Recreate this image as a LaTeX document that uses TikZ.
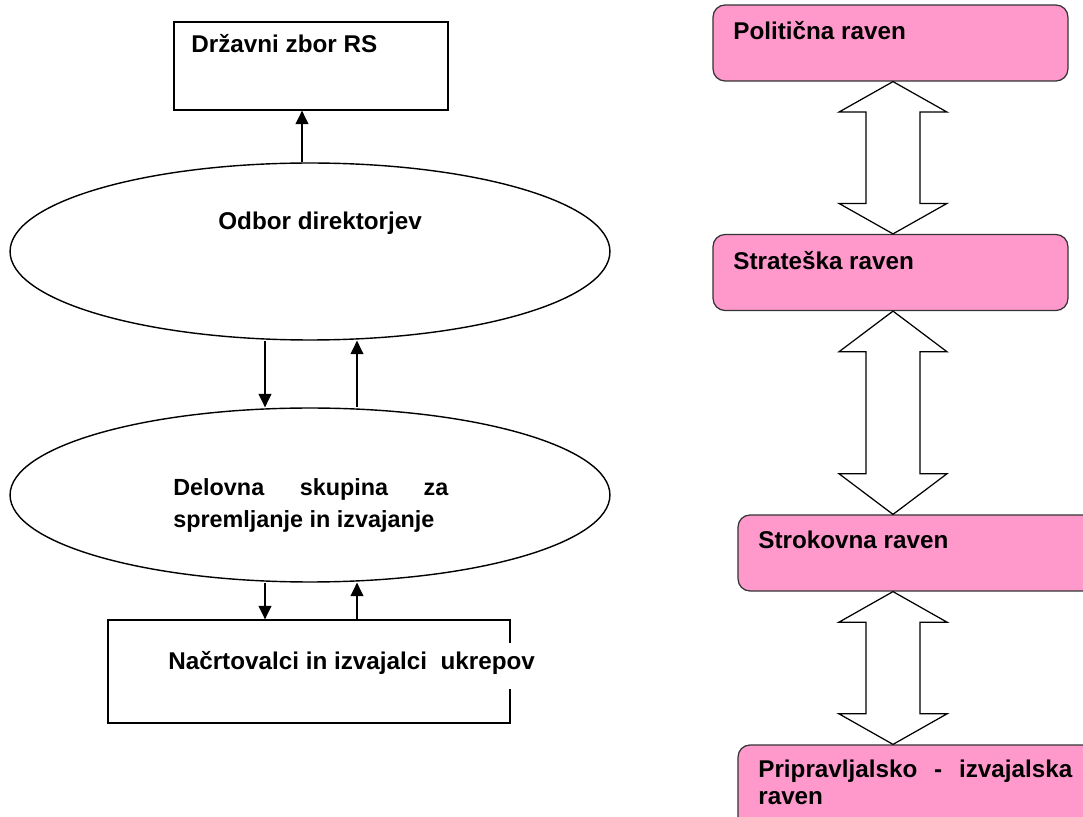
\documentclass[tikz,border=0pt]{standalone}
\usepackage{fontspec}
\setmainfont{Liberation Sans}
\usetikzlibrary{arrows.meta,positioning,shapes.geometric,calc}
\definecolor{LevelPink}{RGB}{255,153,204}
\hyphenpenalty=10000
\tikzset{
  plainbox/.style={draw,line width=0.8pt,inner sep=0pt},
  oval/.style={ellipse,draw,line width=0.8pt,inner sep=0pt,minimum width=12cm},
  level/.style={draw=black!80,rounded corners=0.24cm,fill=LevelPink,
    line width=0.7pt,inner sep=0pt},
  boxtext/.style={anchor=base west,inner sep=0pt,
    font=\bfseries\fontsize{13.8}{16}\selectfont},
  arrow/.style={-{Triangle[length=0.27cm,width=0.26cm]},line width=0.8pt},
  twoway/.style={draw,fill=white,line width=0.7pt,line join=miter}
}
% double block arrow between two levels
\newcommand{\levelarrow}[2]{%
  \coordinate (la-top) at (#1.south -| axis);
  \coordinate (la-bot) at (#2.north -| axis);
  \draw[twoway] (la-top) -- ($(la-top)!0.2!(la-bot)+(54,0)$)
    -- ($(la-top)!0.2!(la-bot)+(27,0)$) -- ($(la-top)!0.8!(la-bot)+(27,0)$)
    -- ($(la-top)!0.8!(la-bot)+(54,0)$) -- (la-bot)
    -- ($(la-top)!0.8!(la-bot)+(-54,0)$) -- ($(la-top)!0.8!(la-bot)+(-27,0)$)
    -- ($(la-top)!0.2!(la-bot)+(-27,0)$) -- ($(la-top)!0.2!(la-bot)+(-54,0)$)
    -- cycle;}

\begin{document}
\begin{tikzpicture}[x=0.02cm,y=-0.02cm]
  \useasboundingbox (0,0) rectangle (1083,817);
  \clip (0,0) rectangle (1083,817);
  % left: bodies
  \node[plainbox,minimum width=5.48cm,minimum height=1.76cm] (drz) at (311,66) {};
  \node[boxtext] (drztxt) at (191,53) {Državni zbor RS};
  \node[oval,minimum height=3.54cm] (odb) at (310,251.5) {};
  \node[boxtext] (odbtxt) at (218,230) {Odbor direktorjev};
  \node[oval,minimum height=3.48cm] (del) at (310,495) {};
  \node[boxtext,font=\bfseries\fontsize{13.3}{18.1}\selectfont,
    text width=5.5cm,align=justify] (deltxt) at (173,496)
    {Delovna skupina za spremljanje in izvajanje};
  \node[plainbox,minimum width=8.04cm,minimum height=2.06cm] (nac) at (309,671.5) {};
  \node[boxtext,fill=white,inner xsep=0.1cm,inner ysep=0.18cm,
    text height=0.36cm,text depth=0.2cm] (nactxt) at (163,670)
    {Načrtovalci in izvajalci\ \ ukrepov};
  % left: links
  \draw[arrow] ($(odb.north)+(-8,0)$) -- ($(drz.south)+(-9,0)$);
  \draw[arrow] ($(odb.south)+(-45,0)$) -- ($(del.north)+(-45,0)$);
  \draw[arrow] ($(del.north)+(47,0)$) -- ($(odb.south)+(47,0)$);
  \draw[arrow] ($(del.south)+(-45,0)$) -- ($(nac.north)+(-44,0)$);
  \draw[arrow] ($(nac.north)+(48,0)$) -- ($(del.south)+(47,0)$);
  % right: levels
  \coordinate (axis) at (893,0);
  \node[level,minimum width=7.1cm,minimum height=1.52cm] (pol) at (890.5,43) {};
  \node[boxtext] (poltxt) at (733,40) {Politična raven};
  \node[level,minimum width=7.1cm,minimum height=1.52cm] (str) at (890.5,272.5) {};
  \node[boxtext] (strtxt) at (733,270) {Strateška raven};
  \node[level,minimum width=7.44cm,minimum height=1.52cm] (strok) at (924,553) {};
  \node[boxtext] (stroktxt) at (758,549) {Strokovna raven};
  \node[level,minimum width=7.44cm,minimum height=2cm] (prip) at (924,795) {};
  \node[boxtext,font=\bfseries\fontsize{13.8}{15.3}\selectfont,
    text width=6.28cm,align=justify] (priptxt) at (758,778)
    {Pripravljalsko - izvajalska raven};
  \levelarrow{pol}{str}
  \levelarrow{str}{strok}
  \levelarrow{strok}{prip}
\end{tikzpicture}
\end{document}
